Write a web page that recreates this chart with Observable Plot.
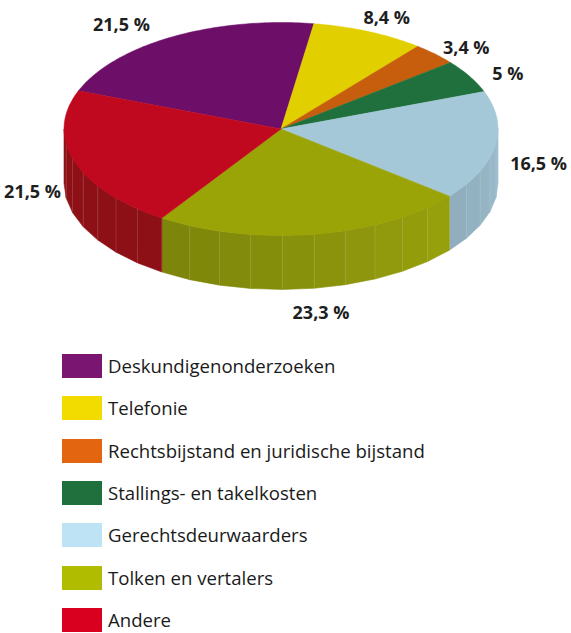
<!DOCTYPE html>
<html><head><meta charset="utf-8">
<script src="https://cdn.jsdelivr.net/npm/d3@7"></script>
<script src="https://cdn.jsdelivr.net/npm/@observablehq/plot@0.6"></script>
<style>
body{margin:0;background:#fff;font-family:"Open Sans",sans-serif;overflow:hidden;}
#chart{position:absolute;left:0;top:0;}
.row{position:absolute;left:62px;display:flex;align-items:center;height:24px;}
.sw{width:40px;height:24px;margin-right:6px;flex:none;}
.lb{font-size:18.6px;line-height:20px;color:#1a1a1a;white-space:nowrap;}
</style></head><body><div id="chart"></div><div id="legend"></div>
<script>
// ---- data ----
const categories = ["Deskundigenonderzoeken","Telefonie","Rechtsbijstand en juridische bijstand","Stallings- en takelkosten","Gerechtsdeurwaarders","Tolken en vertalers","Andere"];
const values = [21.5, 8.4, 3.4, 5, 16.5, 23.3, 21.5];
const valueLabels = ["21,5 %","8,4 %","3,4 %","5 %","16,5 %","23,3 %","21,5 %"];
const topColors = ["#6d0f69","#e2cf00","#c65e0d","#1f703c","#a4c8d7","#9aa407","#c0081f"];
const sideColors = ["#5a0c57","#bba900","#a04c0a","#195a30","#7e99a7","#868f0b","#981119"];
const legendColors = ["#7b1572","#f2dc00","#e3650f","#1f703c","#bde3f4","#b0bc00","#d8001e"];

// ---- layout ----
const W = 571, H = 340;
const CX = 280.5, CY = 128.5, RX = 217, RY = 106.5;
const DEPTH_PX = 54;
const DEPTH = DEPTH_PX / RY;
const deg = Math.PI / 180;
const START = -69 * deg;

const rows = categories.map((c, i) => ({category: c, value: values[i], label: valueLabels[i], i}));
const arcs = d3.pie().sort(null).value(d => d.value).startAngle(START).endAngle(START + 2 * Math.PI)(rows);

// top faces
const topPts = [];
arcs.forEach(a => {
  const i = a.data.i;
  const n = Math.max(2, Math.ceil((a.endAngle - a.startAngle) / deg));
  topPts.push({id: "t" + i, x: 0, y: 0, color: topColors[i]});
  for (let k = 0; k <= n; k++) {
    const t = a.startAngle + (a.endAngle - a.startAngle) * k / n;
    topPts.push({id: "t" + i, x: Math.sin(t), y: -Math.cos(t), color: topColors[i]});
  }
  topPts.push({id: "t" + i, x: 0, y: 0, color: topColors[i]});
});

// side facets (front half visible)
const sidePts = [], stripes = [];
arcs.forEach(a => {
  const i = a.data.i;
  const s = Math.max(a.startAngle, Math.PI / 2), e = Math.min(a.endAngle, 3 * Math.PI / 2);
  if (e <= s) return;
  const n = Math.max(1, Math.ceil((e - s) / (9 * deg)));
  for (let j = 0; j < n; j++) {
    const t0 = s + (e - s) * j / n, t1 = s + (e - s) * (j + 1) / n;
    const tm = (t0 + t1) / 2;
    const k = Math.min(0.22, 1.2 * (tm - Math.PI) / Math.PI);
    const col = d3.color(sideColors[i]).darker(k).formatHex();
    const id = "s" + i + "_" + j;
    [[t0, 0], [t1, 0], [t1, DEPTH], [t0, DEPTH], [t0, 0]].forEach(([t, d]) => {
      sidePts.push({id, x: Math.sin(t), y: -Math.cos(t) + d, color: col});
    });
    if (j > 0) stripes.push({x: Math.sin(t0), y1: -Math.cos(t0), y2: -Math.cos(t0) + DEPTH});
  }
  if (a.startAngle > Math.PI / 2 && a.startAngle < 3 * Math.PI / 2)
    stripes.push({x: Math.sin(a.startAngle), y1: -Math.cos(a.startAngle), y2: -Math.cos(a.startAngle) + DEPTH});
});

// shadow (light from the upper left)
const shadowPts = d3.range(0, 361, 3).map(t => ({x: 8 / RX + Math.sin(t * deg), y: DEPTH + 6 / RY - Math.cos(t * deg)}));

// labels: ellipse edge at mid-angle + pixel gap outward (+ depth on the front)
const labelData = arcs.map(a => {
  const m = (a.startAngle + a.endAngle) / 2;
  const sx = Math.sin(m), cy = -Math.cos(m);
  const dyPx = cy < 0 ? 17.7 * cy * cy * cy : 80 * Math.pow(cy, 0.8);
  return {
    text: a.data.label,
    x: sx + sx * 44 / RX,
    y: cy + dyPx / RY,
    anchor: (sx < -0.3 && cy < 0) ? "end" : "middle"
  };
});

const chart = Plot.plot({
  width: W, height: H, margin: 0,
  style: {fontFamily: "'Open Sans', sans-serif", background: "transparent", overflow: "visible"},
  x: {domain: [-1, 1], range: [CX - RX, CX + RX], axis: null},
  y: {domain: [-1, 1], range: [CY - RY, CY + RY], axis: null},
  color: {type: "identity"},
  marks: [
    Plot.line(shadowPts, {x: "x", y: "y", fill: "#a0a0a0", fillOpacity: 0.55, stroke: "none", ariaLabel: "shadow"}),
    Plot.line(sidePts, {x: "x", y: "y", z: "id", fill: "color", stroke: "color", strokeWidth: 0.6}),
    Plot.link(stripes, {x1: "x", x2: "x", y1: "y1", y2: "y2", stroke: "#ffffff", strokeOpacity: 0.16, strokeWidth: 0.8}),
    Plot.line(topPts, {x: "x", y: "y", z: "id", fill: "color", stroke: "color", strokeWidth: 0.5}),
    Plot.text(labelData.filter(d => d.anchor === "middle"), {x: "x", y: "y", text: "text", fontSize: 18, fontWeight: "bold", fill: "#1e1e1e"}),
    Plot.text(labelData.filter(d => d.anchor === "end"), {x: "x", y: "y", text: "text", textAnchor: "end", fontSize: 18, fontWeight: "bold", fill: "#1e1e1e"})
  ]
});
d3.select(chart).select('g[aria-label="shadow"]').style("filter", "blur(6px)");
document.getElementById("chart").appendChild(chart);

// legend
const legend = d3.select("#legend");
categories.forEach((c, i) => {
  const r = legend.append("div").attr("class", "row").style("top", (354 + i * 42.3) + "px");
  r.append("div").attr("class", "sw").style("background", legendColors[i]);
  r.append("div").attr("class", "lb").text(c);
});
</script></body></html>
